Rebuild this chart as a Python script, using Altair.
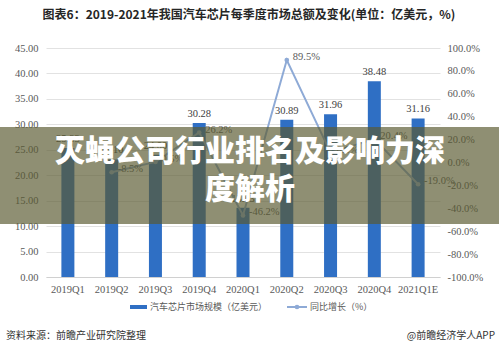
import altair as alt
import pandas as pd

quarters = ["2019Q1", "2019Q2", "2019Q3", "2019Q4", "2020Q1", "2020Q2", "2020Q3", "2020Q4", "2021Q1E"]
market = [25.33, 23.10, 24.00, 30.28, 13.63, 30.89, 31.96, 38.48, 31.16]
growth = [None, -8.5, 0.5, 26.2, -46.2, 89.5, 8.6, 20.4, -19.0]
left_ticks = [0, 5, 10, 15, 20, 25, 30, 35, 40, 45]
right_ticks = [-100, -80, -60, -40, -20, 0, 20, 40, 60, 80, 100]

title_text = "图表6：2019-2021年我国汽车芯片每季度市场总额及变化(单位：亿美元，%)"
legend_bar = "汽车芯片市场规模（亿美元）"
legend_line = "同比增长（%）"
source_text = "资料来源：前瞻产业研究院整理"
brand_text = "@前瞻经济学人APP"
banner_line1 = "灭蝇公司行业排名及影响力深"
banner_line2 = "度解析"

BAR = "#2f6fc4"
LINE = "#8eaad6"
GRAY = "#595959"
SERIF = "Liberation Serif"
CJK = "Noto Sans CJK SC"

df = pd.DataFrame({"quarter": quarters, "market": market, "growth": growth})
one = pd.DataFrame({"k": [0]})

xenc = alt.X("quarter:N", sort=quarters, title=None,
             scale=alt.Scale(paddingInner=0, paddingOuter=0),
             axis=alt.Axis(labelAngle=0, ticks=False, labelPadding=7, labelFont=SERIF,
                           labelFontSize=10.5, labelColor=GRAY, domainColor="#d0d0d0"))
lscale = alt.Scale(domain=[0, 45], nice=False, zero=True)
rscale = alt.Scale(domain=[-100, 100], nice=False, zero=False)

bars = alt.Chart(df).mark_bar(size=13, color=BAR).encode(
    x=xenc,
    y=alt.Y("market:Q", scale=lscale, title=None,
            axis=alt.Axis(values=left_ticks, format=".2f", grid=True, gridColor="#e2e2e2",
                          domain=False, ticks=False, labelPadding=8, labelFont=SERIF,
                          labelFontSize=10.5, labelColor=GRAY, orient="left")),
)
bar_labels = alt.Chart(df).mark_text(dy=-9, font=SERIF, fontSize=10.5, color="#404040").encode(
    x=alt.X("quarter:N", sort=quarters),
    y=alt.Y("market:Q", scale=lscale, axis=None),
    text=alt.Text("market:Q", format=".2f"),
)
line = alt.Chart(df).transform_filter("datum.growth != null").mark_line(
    color=LINE, strokeWidth=2).encode(
    x=alt.X("quarter:N", sort=quarters),
    y=alt.Y("growth:Q", scale=rscale, title=None,
            axis=alt.Axis(values=right_ticks, orient="right", grid=False, domain=False,
                          ticks=False, labelPadding=7, labelFont=SERIF, labelFontSize=10.5,
                          labelColor=GRAY,
                          labelExpr="replace(format(datum.value, '.1f'), '\u2212', '-') + '%'")),
)
points = alt.Chart(df).transform_filter("datum.growth != null").mark_point(
    filled=True, color=LINE, size=22, opacity=1).encode(
    x=alt.X("quarter:N", sort=quarters),
    y=alt.Y("growth:Q", scale=rscale, axis=None),
)
line_labels = alt.Chart(df).transform_filter("datum.growth != null").transform_calculate(
    lab="replace(format(datum.growth, '.1f'), '\u2212', '-') + '%'").mark_text(
    align="left", dx=6, dy=-3, font=SERIF, fontSize=10.5, color=GRAY).encode(
    x=alt.X("quarter:N", sort=quarters),
    y=alt.Y("growth:Q", scale=rscale, axis=None),
    text="lab:N",
)

title = alt.Chart(one).mark_text(font=CJK, fontSize=12, fontWeight="bold", color="#262626",
                                 align="center", baseline="middle").encode(
    x=alt.value(203), y=alt.value(-33), text=alt.value(title_text))

leg_rect = alt.Chart(one).mark_rect(color=BAR).encode(
    x=alt.value(84), x2=alt.value(101), y=alt.value(257), y2=alt.value(261))
leg_t1 = alt.Chart(one).mark_text(font=CJK, fontSize=9, color=GRAY, align="left",
                                  baseline="middle").encode(
    x=alt.value(104), y=alt.value(259), text=alt.value(legend_bar))
leg_line = alt.Chart(one).mark_rule(color=LINE, strokeWidth=2).encode(
    x=alt.value(241), x2=alt.value(261), y=alt.value(259))
leg_dot = alt.Chart(one).mark_point(filled=True, color=LINE, size=22, opacity=1).encode(
    x=alt.value(251), y=alt.value(259))
leg_t2 = alt.Chart(one).mark_text(font=CJK, fontSize=9, color=GRAY, align="left",
                                  baseline="middle").encode(
    x=alt.value(264), y=alt.value(259), text=alt.value(legend_line))

src = alt.Chart(one).mark_text(font=CJK, fontSize=10, color="#333333", align="left",
                               baseline="middle").encode(
    x=alt.value(-40), y=alt.value(288), text=alt.value(source_text))
brand = alt.Chart(one).mark_text(font=CJK, fontSize=10, color="#333333", align="right",
                                 baseline="middle").encode(
    x=alt.value(449), y=alt.value(288), text=alt.value(brand_text))

banner = alt.Chart(one).mark_rect(color="#5a5a30", opacity=0.68).encode(
    x=alt.value(-46), x2=alt.value(453), y=alt.value(79), y2=alt.value(176))
bt1 = alt.Chart(one).mark_text(font=CJK, fontSize=30, fontWeight=900, color="white",
                               align="center", baseline="middle").encode(
    x=alt.value(204), y=alt.value(104), text=alt.value(banner_line1))
bt2 = alt.Chart(one).mark_text(font=CJK, fontSize=30, fontWeight=900, color="white",
                               align="center", baseline="middle").encode(
    x=alt.value(204), y=alt.value(142), text=alt.value(banner_line2))

chart = alt.layer(
    bars, bar_labels, line, points, line_labels,
    title, leg_rect, leg_t1, leg_line, leg_dot, leg_t2, src, brand,
    banner, bt1, bt2,
).resolve_scale(y="independent").properties(
    width=394, height=229,
    padding={"left": 46, "top": 48, "right": 59, "bottom": 75},
    autosize=alt.AutoSizeParams(type="none"),
    background="white",
).configure_view(stroke=None)

chart.save("out.html", embed_options={"renderer": "svg", "actions": False})
